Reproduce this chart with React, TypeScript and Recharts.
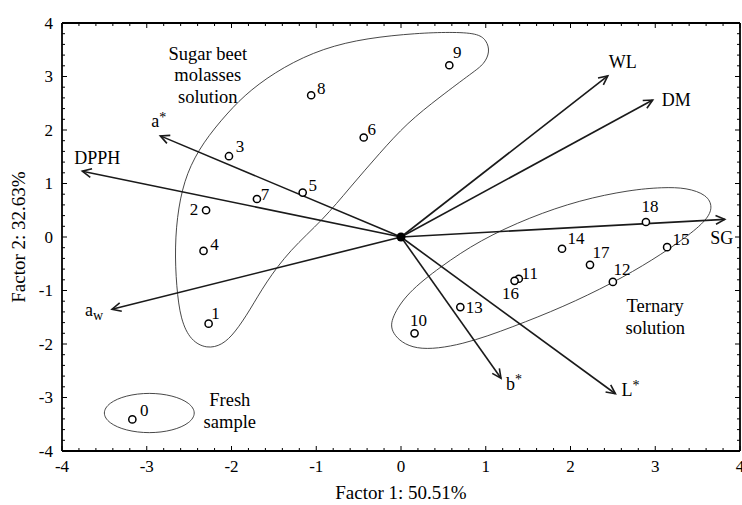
import { ComposedChart, Scatter, XAxis, YAxis, Label } from "recharts";

const FONT = '"Liberation Serif", "Times New Roman", Times, serif';

// chart box: 742 x 505, plot area 62..740 / 23..451
const W = 742, H = 505;
const LEFT_W = 62, RIGHT_W = 2, TOP_H = 23, BOTTOM_H = 54;
const KX = (W - LEFT_W - RIGHT_W) / 8;
const KY = (H - TOP_H - BOTTOM_H) / 8;

const AXIS_TICKS = [
  -4, -3.8, -3.6, -3.4, -3.2, -3, -2.8, -2.6, -2.4, -2.2, -2, -1.8, -1.6, -1.4, -1.2, -1,
  -0.8, -0.6, -0.4, -0.2, 0, 0.2, 0.4, 0.6, 0.8, 1, 1.2, 1.4, 1.6, 1.8, 2, 2.2, 2.4, 2.6,
  2.8, 3, 3.2, 3.4, 3.6, 3.8, 4,
];

// sample scores
const SAMPLE_IDS = ["0", "1", "2", "3", "4", "5", "6", "7", "8", "9", "10", "11", "12", "13", "14", "15", "16", "17", "18"];
const SAMPLE_F1 = [-3.17, -2.27, -2.3, -2.03, -2.33, -1.16, -0.44, -1.7, -1.06, 0.57, 0.16, 1.39, 2.5, 0.7, 1.9, 3.14, 1.34, 2.23, 2.89];
const SAMPLE_F2 = [-3.41, -1.62, 0.5, 1.51, -0.26, 0.83, 1.86, 0.71, 2.65, 3.21, -1.8, -0.78, -0.84, -1.31, -0.22, -0.19, -0.82, -0.52, 0.28];

// variable loadings (arrows)
const VAR_NAMES = ["WL", "DM", "SG", "L*", "b*", "aw", "DPPH", "a*"];
const VAR_F1 = [2.44, 2.97, 3.82, 2.53, 1.18, -3.41, -3.76, -2.84];
const VAR_F2 = [3.01, 2.56, 0.33, -2.93, -2.64, -1.35, 1.23, 1.89];

// hand drawn group outlines
const MOLASSES_F1 = [0.9, 1.01, 1.05, 0.98, 0.85, 0.46, 0.07, -0.25, -0.6, -0.92, -1.31, -1.6, -1.78, -1.96, -2.11, -2.29, -2.48, -2.6, -2.65, -2.67, -2.63, -2.53, -2.34, -2.05, -1.78, -1.39, -0.92, -0.4, 0.19, 0.58];
const MOLASSES_F2 = [3.81, 3.68, 3.46, 3.23, 3.08, 2.62, 2.13, 1.57, 0.93, 0.32, -0.24, -0.86, -1.36, -1.79, -2.02, -2.09, -1.94, -1.55, -0.93, -0.19, 0.56, 1.2, 1.76, 2.32, 2.75, 3.18, 3.53, 3.72, 3.81, 3.83];
const TERNARY_F1 = [-0.13, 0.14, 0.73, 1.32, 1.91, 2.5, 2.97, 3.37, 3.61, 3.68, 3.61, 3.37, 3.09, 2.7, 2.11, 1.52, 0.93, 0.46, 0.07, -0.11];
const TERNARY_F2 = [-1.79, -2.15, -2.02, -1.68, -1.31, -0.86, -0.43, 0.0, 0.32, 0.56, 0.79, 0.92, 0.93, 0.88, 0.69, 0.37, -0.06, -0.56, -1.05, -1.5];
const FRESH_F1 = [-2.415, -2.49, -2.69, -2.97, -3.25, -3.45, -3.525, -3.45, -3.25, -2.97, -2.69, -2.49];
const FRESH_F2 = [-3.29, -3.1, -2.96, -2.905, -2.96, -3.1, -3.29, -3.48, -3.62, -3.675, -3.62, -3.48];

const GROUP_TEXT = [["Sugar beet", "molasses", "solution"], ["Ternary", "solution"], ["Fresh", "sample"]];
const GROUP_F1 = [-2.28, 3.0, -2.02];
const GROUP_F2 = [3.03, -1.49, -3.24];

// label nudges in px
const SAMPLE_LABEL_OFF: Record<string, [number, number]> = {
  "0": [12, -9], "1": [7, -11], "2": [-12, -1], "3": [11, -10], "4": [11, -7], "5": [10, -8],
  "6": [8, -8], "7": [8, -5], "8": [10, -7], "9": [8, -13], "10": [4, -13], "11": [11, -6],
  "12": [9, -13], "13": [14, 0], "14": [14, -11], "15": [14, -8], "16": [-4, 12], "17": [11, -13], "18": [4, -16],
};
const VAR_LABEL_OFF: Record<string, { dx: number; dy: number; anchor: string }> = {
  WL: { dx: 15, dy: -14, anchor: "middle" },
  DM: { dx: 9, dy: 0, anchor: "start" },
  SG: { dx: -3, dy: 18, anchor: "middle" },
  "L*": { dx: 6, dy: -4, anchor: "start" },
  "b*": { dx: 5, dy: 5, anchor: "start" },
  aw: { dx: -9, dy: 0, anchor: "end" },
  DPPH: { dx: 15, dy: -13, anchor: "middle" },
  "a*": { dx: -9, dy: -15, anchor: "start" },
};

const toPts = (xs: number[], ys: number[]) => xs.map((x, i) => ({ x, y: ys[i] }));

const samples = SAMPLE_IDS.map((id, i) => ({ id, x: SAMPLE_F1[i], y: SAMPLE_F2[i] }));
const groups = GROUP_TEXT.map((lines, i) => ({ lines, x: GROUP_F1[i], y: GROUP_F2[i] }));

const isMajor = (v: number) => Math.abs(v - Math.round(v)) < 1e-6;

function BottomTick(props: any) {
  const { x, y, payload } = props;
  const major = isMajor(payload.value);
  return (
    <g>
      <line x1={x} x2={x} y1={y} y2={y - (major ? 5 : 3)} stroke="#000" strokeWidth={1} />
      {major && (
        <text x={x} y={y + 21} textAnchor="middle" fontSize={17} fontFamily={FONT} fill="#000">
          {String(Math.round(payload.value))}
        </text>
      )}
    </g>
  );
}

function TopTick(props: any) {
  const { x, y, payload } = props;
  const major = isMajor(payload.value);
  return <line x1={x} x2={x} y1={y} y2={y + (major ? 5 : 3)} stroke="#000" strokeWidth={1} />;
}

function LeftTick(props: any) {
  const { x, y, payload } = props;
  const major = isMajor(payload.value);
  return (
    <g>
      <line x1={x} x2={x + (major ? 5 : 3)} y1={y} y2={y} stroke="#000" strokeWidth={1} />
      {major && (
        <text x={x - 9} y={y} dy="0.35em" textAnchor="end" fontSize={17} fontFamily={FONT} fill="#000">
          {String(Math.round(payload.value))}
        </text>
      )}
    </g>
  );
}

function RightTick(props: any) {
  const { x, y, payload } = props;
  const major = isMajor(payload.value);
  return <line x1={x} x2={x - (major ? 5 : 3)} y1={y} y2={y} stroke="#000" strokeWidth={1} />;
}

function SampleShape(props: any) {
  const { cx, cy, payload } = props;
  const [dx, dy] = SAMPLE_LABEL_OFF[payload.id] || [10, -8];
  return (
    <g>
      <circle cx={cx} cy={cy} r={3.6} fill="#fff" stroke="#000" strokeWidth={1.5} />
      <text x={cx + dx} y={cy + dy} dy="0.35em" textAnchor="middle" fontSize={17} fontFamily={FONT} fill="#000">
        {payload.id}
      </text>
    </g>
  );
}

function VarText({ name, x, y, anchor }: { name: string; x: number; y: number; anchor: any }) {
  const main = name.endsWith("*") ? name.slice(0, -1) : name === "aw" ? "a" : name;
  return (
    <text x={x} y={y} dy="0.35em" textAnchor={anchor} fontSize={18} fontFamily={FONT} fill="#000">
      {main}
      {name.endsWith("*") && (
        <tspan dy="-0.4em" fontSize={14}>*</tspan>
      )}
      {name === "aw" && (
        <tspan dy="0.35em" fontSize={14}>w</tspan>
      )}
    </text>
  );
}

function ArrowTip(props: any) {
  const { cx, cy, payload } = props;
  if (!payload.tip) return <g />;
  const ang = Math.atan2(-payload.y * KY, payload.x * KX);
  const L = 10, th = 0.45;
  const a = [cx - L * Math.cos(ang - th), cy - L * Math.sin(ang - th)];
  const b = [cx - L * Math.cos(ang + th), cy - L * Math.sin(ang + th)];
  const off = VAR_LABEL_OFF[payload.name];
  return (
    <g>
      <polyline points={`${a[0]},${a[1]} ${cx},${cy} ${b[0]},${b[1]}`} fill="none" stroke="#1a1a1a" strokeWidth={1.6} />
      <VarText name={payload.name} x={cx + off.dx} y={cy + off.dy} anchor={off.anchor} />
    </g>
  );
}

function GroupText(props: any) {
  const { cx, cy, payload } = props;
  const n = payload.lines.length;
  return (
    <text textAnchor="middle" fontSize={18.5} fontFamily={FONT} fill="#000">
      {payload.lines.map((s: string, i: number) => (
        <tspan key={i} x={cx} y={cy + (i - (n - 1) / 2) * 21.5} dy="0.35em">{s}</tspan>
      ))}
    </text>
  );
}

const Empty = () => <g />;

export default function App() {
  const outlines = [toPts(MOLASSES_F1, MOLASSES_F2), toPts(TERNARY_F1, TERNARY_F2), toPts(FRESH_F1, FRESH_F2)];
  return (
    <div style={{ position: "absolute", left: 0, top: 0, background: "#fff" }}>
      <ComposedChart width={W} height={H} margin={{ top: 0, right: 0, bottom: 0, left: 0 }}>
        <XAxis
          dataKey="x" type="number" domain={[-4, 4]} allowDataOverflow ticks={AXIS_TICKS} interval={0}
          height={BOTTOM_H} tickSize={0} tickMargin={0} tick={<BottomTick />}
          axisLine={{ stroke: "#000", strokeWidth: 1.8 }} tickLine={false}
        >
          <Label value="Factor 1: 50.51%" position="insideBottom" offset={6} style={{ fontFamily: FONT, fontSize: 19, fill: "#000" }} />
        </XAxis>
        <XAxis
          xAxisId="top" orientation="top" dataKey="x" type="number" domain={[-4, 4]} allowDataOverflow ticks={AXIS_TICKS}
          interval={0} height={TOP_H} tickSize={0} tickMargin={0} tick={<TopTick />}
          axisLine={{ stroke: "#000", strokeWidth: 1.8 }} tickLine={false}
        />
        <YAxis
          dataKey="y" type="number" domain={[-4, 4]} allowDataOverflow ticks={AXIS_TICKS} interval={0}
          width={LEFT_W} tickSize={0} tickMargin={0} tick={<LeftTick />}
          axisLine={{ stroke: "#000", strokeWidth: 1.8 }} tickLine={false}
        >
          <Label value="Factor 2: 32.63%" angle={-90} position="insideLeft" offset={18} style={{ fontFamily: FONT, fontSize: 19, fill: "#000", textAnchor: "middle" }} />
        </YAxis>
        <YAxis
          yAxisId="right" orientation="right" dataKey="y" type="number" domain={[-4, 4]} allowDataOverflow ticks={AXIS_TICKS}
          interval={0} width={RIGHT_W} tickSize={0} tickMargin={0} tick={<RightTick />}
          axisLine={{ stroke: "#000", strokeWidth: 1.8 }} tickLine={false}
        />

        {outlines.map((pts, i) => (
          <Scatter
            key={"o" + i} data={pts} fill="none" line={{ stroke: "#333", strokeWidth: 0.9 }}
            lineJointType="basisClosed" shape={<Empty />} isAnimationActive={false}
          />
        ))}

        {VAR_NAMES.map((name, i) => (
          <Scatter
            key={name}
            data={[{ x: 0, y: 0, tip: false, name }, { x: VAR_F1[i], y: VAR_F2[i], tip: true, name }]}
            fill="none" line={{ stroke: "#1a1a1a", strokeWidth: 1.6 }} shape={<ArrowTip />} isAnimationActive={false}
          />
        ))}

        <Scatter data={[{ x: 0, y: 0 }]} fill="#000" shape={(p: any) => <circle cx={p.cx} cy={p.cy} r={4.5} fill="#000" />} isAnimationActive={false} />
        <Scatter data={samples} fill="#fff" shape={<SampleShape />} isAnimationActive={false} />
        <Scatter data={groups} fill="none" shape={<GroupText />} isAnimationActive={false} />
      </ComposedChart>
    </div>
  );
}
